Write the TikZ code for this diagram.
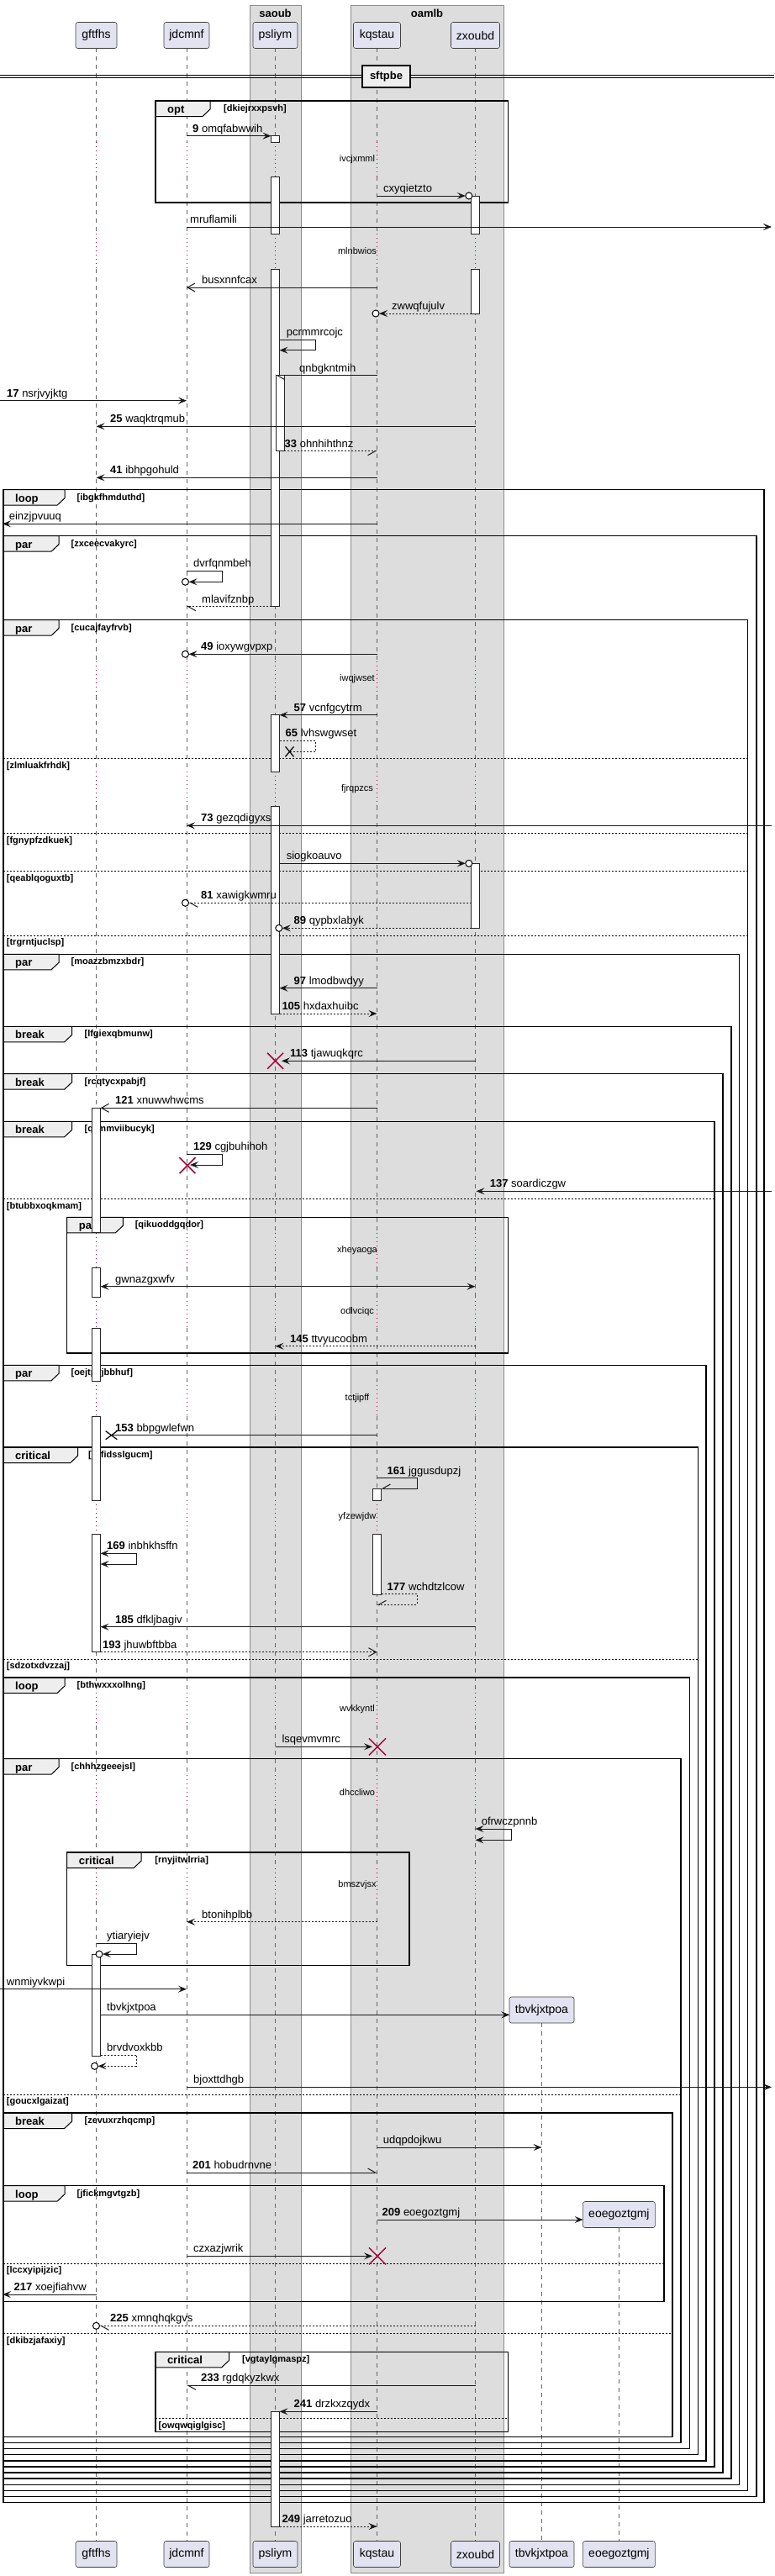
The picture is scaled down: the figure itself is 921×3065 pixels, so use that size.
\documentclass[tikz,border=0pt]{standalone}
\usepackage{fontspec}
\setmainfont{Liberation Sans}
\usetikzlibrary{arrows.meta}
\definecolor{partfill}{HTML}{E2E2F0}
\definecolor{boxfill}{HTML}{DDDDDD}
\definecolor{tabfill}{HTML}{EEEEEE}
\definecolor{dred}{HTML}{A80036}
\def\xA{114.5}\def\xB{222}\def\xC{327.5}\def\xD{448.5}\def\xE{565.5}\def\xF{644.5}\def\xG{736.4}
\newcommand\Msg[7]{%
  \coordinate (#1s) at (#3,#5);
  \coordinate (#1e) at (#4,#5);
  \draw[#2] (#1s) -- (#1e);
  \node[lab] (#1l) at (#6,#5-4.5) {#7};}
\newcommand\SelfM[9]{%
  \coordinate (#1s) at (#3,#5);
  \coordinate (#1a) at (#4,#5);
  \coordinate (#1b) at (#4,#6);
  \coordinate (#1e) at (#7,#6);
  \draw[#2] (#1s) -- (#1a) -- (#1b) -- (#1e);
  \node[lab] (#1l) at (#8,#5-4.5) {#9};}
\newcommand\Frag[9]{%
  \draw[tab] (#2,#3) -- (#2+#6,#3) -- (#2+#6,#3+10) -- (#2+#6-9,#3+18.5) -- (#2,#3+18.5) -- cycle;
  \draw[frame] (#2,#3) rectangle (#4,#5);
  \node[kw] (#1k) at (#2+14,#3+14.5) {#7};
  \node[cond] (#1c) at (#9,#3+12.5) {#8};}
\newcommand\SepL[5]{%
  \draw[sepl] (#2,#4) -- (#3,#4);
  \node[cond] (#1) at (#2+3.7,#4+11.5) {#5};}
\newcommand\XR[3]{\draw[xr] (#1-#3,#2-#3) -- (#1+#3,#2+#3) (#1-#3,#2+#3) -- (#1+#3,#2-#3);}
\newcommand\XB[4]{\draw[xb] (#1-#3,#2-#4) -- (#1+#3,#2+#4) (#1-#3,#2+#4) -- (#1+#3,#2-#4);}
\newcommand\Circ[2]{\draw[circ] (#1,#2) circle[radius=4pt];}
\newcommand\Act[3]{\draw[act] (#1,#2) rectangle (#1+10,#3);}
\begin{document}
\begin{tikzpicture}[x=1pt,y=-1pt,
  part/.style={draw=black!75, fill=partfill, rounded corners=2.5pt, line width=0.6pt, minimum height=31pt, inner sep=0pt, font=\fontsize{14}{16}\selectfont},
  life/.style={draw=black!60, line width=0.6pt, dash pattern=on 5pt off 5pt},
  dly/.style={draw=dred, line width=0.8pt, dash pattern=on 1pt off 4pt},
  act/.style={draw=black!85, fill=white, line width=0.8pt},
  m/.style={draw=black!90, line width=1pt},
  r/.style={m, dash pattern=on 2pt off 2pt},
  fa/.style={-{Stealth[length=10pt,width=8pt,inset=4pt]}},
  fab/.style={{Stealth[length=10pt,width=8pt,inset=4pt]}-{Stealth[length=10pt,width=8pt,inset=4pt]}},
  oa/.style={-{Straight Barb[length=9pt,width=10pt]}},
  hl/.style={-{Straight Barb[length=9pt,width=10pt,harpoon]}},
  hr/.style={-{Straight Barb[length=9pt,width=10pt,harpoon,swap]}},
  lab/.style={anchor=base west, inner sep=0pt, font=\fontsize{13}{15}\selectfont},
  frame/.style={draw=black, line width=1.5pt},
  sepl/.style={draw=black, line width=1pt, dash pattern=on 2pt off 2pt},
  tab/.style={draw=black, line width=1pt, fill=tabfill},
  kw/.style={anchor=base west, inner sep=0pt, font=\bfseries\fontsize{13}{15}\selectfont},
  cond/.style={anchor=base west, inner sep=0pt, font=\bfseries\fontsize{11}{13}\selectfont},
  dlab/.style={inner sep=0pt, font=\fontsize{11}{13}\selectfont},
  xr/.style={draw=dred, line width=1.5pt},
  xb/.style={draw=black, line width=1.2pt},
  circ/.style={draw=black, line width=1pt, fill=white},
  grp/.style={draw=black!45, fill=boxfill, line width=0.8pt},
  gtitle/.style={font=\bfseries\fontsize{13}{15}\selectfont, inner sep=0pt}
]
\useasboundingbox (0,0) rectangle (921,3065);
\fill[white] (0,0) rectangle (921,3065);
% groups
\draw[grp] (297,6) rectangle (358,3061);
\draw[grp] (417,6) rectangle (599,3061);
\node[gtitle] (g1) at (327.5,16) {saoub};
\node[gtitle] (g2) at (508,16) {oamlb};
% lifelines
\foreach \x in {114.5,222,327.5,448.5,565.5}{
  \foreach \a/\b in {57/169.3,210/278.3,320/786.7,828.3/918.3,959.3/1466.7,1508.3/1543,1580/1643,1685/1785,1825/2014.3,2053/2111.7,2153.3/2222.7,2262/3023}
    \draw[life] (\x,\a) -- (\x,\b);
  \foreach \a/\b in {169.3/210,278.3/320,786.7/828.3,918.3/959.3,1466.7/1508.3,1543/1580,1643/1685,1785/1825,2014.3/2053,2111.7/2153.3,2222.7/2262}
    \draw[dly] (\x,\a) -- (\x,\b);
}
\draw[life] (\xF,2407.3) -- (\xF,3023);
\draw[life] (\xG,2650.7) -- (\xG,3023);
% delay labels
\node[dlab] (d1) at (425,190) {ivcjxmml};
\node[dlab] (d2) at (425,299) {mlnbwios};
\node[dlab] (d3) at (425,807.5) {iwqjwset};
\node[dlab] (d4) at (425,939) {fjrqpzcs};
\node[dlab] (d5) at (425,1487.5) {xheyaoga};
\node[dlab] (d6) at (425,1561) {odlvciqc};
\node[dlab] (d7) at (425,1664) {tctjipff};
\node[dlab] (d8) at (425,1805) {yfzewjdw};
\node[dlab] (d9) at (425,2034) {wvkkyntl};
\node[dlab] (d10) at (425,2132.5) {dhccliwo};
\node[dlab] (d11) at (425,2242.5) {bmszvjsx};
% participants
\node[part, minimum width=49pt] (pA) at (\xA,42) {gftfhs};
\node[part, minimum width=54pt] (pB) at (\xB,42) {jdcmnf};
\node[part, minimum width=53pt] (pC) at (\xC,42) {psliym};
\node[part, minimum width=56pt] (pD) at (\xD,42) {kqstau};
\node[part, minimum width=58pt] (pE) at (\xE,42) {zxoubd};
\node[part, minimum width=49pt] (qA) at (\xA,3039) {gftfhs};
\node[part, minimum width=54pt] (qB) at (\xB,3039) {jdcmnf};
\node[part, minimum width=53pt] (qC) at (\xC,3039) {psliym};
\node[part, minimum width=56pt] (qD) at (\xD,3039) {kqstau};
\node[part, minimum width=58pt] (qE) at (\xE,3039) {zxoubd};
\node[part, minimum width=77pt] (pF) at (\xF,2391.5) {tbvkjxtpoa};
\node[part, minimum width=77pt] (qF) at (\xF,3039) {tbvkjxtpoa};
\node[part, minimum width=86pt] (pG) at (\xG,2635) {eoegoztgmj};
\node[part, minimum width=86pt] (qG) at (\xG,3039) {eoegoztgmj};
% divider
\draw[line width=1pt] (0,89.3) -- (921,89.3) (0,92.7) -- (921,92.7);
\node[draw=black, line width=1.5pt, fill=tabfill, minimum width=57pt, minimum height=26pt, inner sep=0pt, font=\bfseries\fontsize{13}{15}\selectfont] (div) at (459.5,91) {sftpbe};
% fragments
\Frag{f0}{185}{120}{604.5}{241}{65}{opt}{[dkiejrxxpsvh]}{266}
\Frag{f1}{4}{582.7}{909}{2977.7}{73}{loop}{[ibgkfhmduthd]}{91.5}
\Frag{f2}{4}{637.7}{900}{2970.6}{66}{par}{[zxceecvakyrc]}{84.4}
\Frag{f3}{4}{737.7}{889.6}{2963.5}{66}{par}{[cucajfayfrvb]}{84.4}
\Frag{f4}{4}{1135.3}{879.6}{2956.3}{66}{par}{[moazzbmzxbdr]}{84.4}
\Frag{f5}{4}{1221.3}{870}{2949.2}{81.6}{break}{[lfgiexqbmunw]}{100.4}
\Frag{f6}{4}{1277.7}{860}{2942.1}{81.6}{break}{[rcqtycxpabjf]}{100.4}
\Frag{f7}{4}{1334.3}{850}{2935}{81.6}{break}{[qzmmviibucyk]}{100.4}
\Frag{f7a}{79.7}{1448.3}{604.5}{1610}{66.7}{par}{[qikuoddgqdor]}{160.6}
\Frag{f8}{4}{1624.3}{840}{2927.8}{66}{par}{[oejtpvjbbhuf]}{84.4}
\Frag{f9}{4}{1722}{830.6}{2920.7}{88.7}{critical}{[rdfidsslgucm]}{105}
\Frag{f10}{4}{1996}{820.5}{2913.6}{73}{loop}{[bthwxxxolhng]}{91.5}
\Frag{f11}{4}{2092.7}{810}{2906.4}{66}{par}{[chhhzgeeejsl]}{84.4}
\Frag{f11a}{79.7}{2204}{487}{2338.3}{88.5}{critical}{[rnyjitwlrria]}{184.2}
\Frag{f12}{4}{2514}{800}{2899.3}{81.6}{break}{[zevuxrzhqcmp]}{100.4}
\Frag{f13}{4}{2600.7}{790}{2738.3}{73}{loop}{[jfickmgvtgzb]}{91.5}
\Frag{f12a}{184.8}{2798.3}{604.5}{2893.3}{87.9}{critical}{[vgtaylgmaspz]}{288}
\SepL{s1}{4}{889.6}{902.7}{[zlmluakfrhdk]}
\SepL{s2}{4}{889.6}{991.7}{[fgnypfzdkuek]}
\SepL{s3}{4}{889.6}{1036.7}{[qeablqoguxtb]}
\SepL{s4}{4}{889.6}{1113.3}{[trgrntjuclsp]}
\SepL{s5}{4}{850}{1426.7}{[btubbxoqkmam]}
\SepL{s6}{4}{830.6}{1974.3}{[sdzotxdvzzaj]}
\SepL{s7}{4}{810}{2492.3}{[goucxlgaizat]}
\SepL{s8}{4}{790}{2693.3}{[lccxyipijzic]}
\SepL{s9}{4}{800}{2776.7}{[dkibzjafaxiy]}
\SepL{s10}{184.8}{604.5}{2877.7}{[owqwqiglgisc]}
% activations
\Act{322.5}{161.7}{169.3}
\Act{322.5}{210}{278.3}
\Act{322.5}{320}{721.7}
\Act{328}{446.7}{536.7}
\Act{322.5}{850.7}{918.3}
\Act{322.5}{959.3}{1206}
\Act{322.5}{2869.3}{3006}
\Act{560.5}{233}{278.3}
\Act{560.5}{320}{373}
\Act{560.5}{1027.3}{1104.3}
\Act{443.5}{1771}{1785}
\Act{443.5}{1825}{1897.3}
\Act{109.5}{1318.3}{1466.7}
\Act{109.5}{1508.3}{1543}
\Act{109.5}{1580}{1643}
\Act{109.5}{1685}{1785}
\Act{109.5}{1825}{1965}
\Act{109.5}{2325}{2446}
% messages
\Msg{m1}{m,fa}{\xB}{322.5}{161.7}{229}{\textbf{9} omqfabwwih}
\Msg{m2}{m,fa}{\xD}{553.8}{233}{456}{cxyqietzto}\Circ{557.8}{233}
\Msg{m3}{m,fa}{\xB}{918}{270}{226}{mruflamili}
\Msg{m4}{m,oa}{\xD}{\xB}{342}{240}{busxnnfcax}
\Msg{m5}{r,fa}{560.5}{451}{373}{466}{zwwqfujulv}\Circ{447}{373}
\SelfM{m6}{m,fa}{332.5}{375}{404}{416.7}{332.5}{340.6}{pcrmmrcojc}
\Msg{m7}{m,hl}{\xD}{328}{446.7}{356}{qnbgkntmih}
\Msg{m8}{m,fa}{0}{\xB}{476.7}{8}{\textbf{17} nsrjvyjktg}
\Msg{m9}{m,fa}{\xE}{\xA}{507.3}{131}{\textbf{25} waqktrqmub}
\Msg{m10}{r,hr}{338}{\xD}{536.7}{338.5}{\textbf{33} ohnhihthnz}
\Msg{m11}{m,fa}{\xD}{\xA}{568.3}{131}{\textbf{41} ibhpgohuld}
\Msg{m12}{m,fa}{\xD}{3}{623.3}{10.6}{einzjpvuuq}
\SelfM{m13}{m,fa}{\xB}{264.5}{679.3}{692.3}{224.5}{230}{dvrfqnmbeh}\Circ{220.5}{692.3}
\Msg{m14}{r,hl}{322.5}{\xB}{721.7}{240}{mlavifznbp}
\Msg{m15}{m,fa}{\xD}{224.5}{778.3}{239}{\textbf{49} ioxywgvpxp}\Circ{220.5}{778.3}
\Msg{m16}{m,fa}{\xD}{332.5}{850.7}{349.5}{\textbf{57} vcnfgcytrm}
\SelfM{m17}{r}{332.5}{375}{881.3}{894.3}{344.5}{339.5}{\textbf{65} lvhswgwset}\XB{344.5}{894.3}{5}{6}
\Msg{m18}{m,fa}{918}{\xB}{982.3}{239}{\textbf{73} gezqdigyxs}
\Msg{m19}{m,fa}{332.5}{553.8}{1027.3}{340.6}{siogkoauvo}\Circ{557.8}{1027.3}
\Msg{m20}{r,hl}{560.5}{224.5}{1074.3}{239}{\textbf{81} xawigkwmru}\Circ{220.5}{1074.3}
\Msg{m21}{r,fa}{560.5}{335.8}{1104.3}{349.5}{\textbf{89} qypbxlabyk}\Circ{331.8}{1104.3}
\Msg{m22}{m,fa}{\xD}{332.5}{1175.7}{349.5}{\textbf{97} lmodbwdyy}
\Msg{m23}{r,fa}{332.5}{\xD}{1206}{335.3}{\textbf{105} hxdaxhuibc}
\Msg{m24}{m,fa}{\xE}{335}{1262.3}{345}{\textbf{113} tjawuqkqrc}\XR{327.6}{1262.3}{9.5}
\Msg{m25}{m,oa}{\xD}{119.5}{1318.3}{137}{\textbf{121} xnuwwhwcms}
\SelfM{m26}{m,fa}{\xB}{264.5}{1373.3}{1386}{226}{230}{\textbf{129} cgjbuhihoh}\XR{223}{1386.7}{9.5}
\Msg{m27}{m,fa}{918}{566.5}{1417.3}{582.6}{\textbf{137} soardiczgw}
\Msg{m28}{m,fab}{119.5}{\xE}{1530.7}{137}{gwnazgxwfv}
\Msg{m29}{r,fa}{\xE}{\xC}{1601.7}{345}{\textbf{145} ttvyucoobm}
\Msg{m30}{m}{\xD}{132.5}{1707.7}{137}{\textbf{153} bbpgwlefwn}\XB{132.5}{1707.7}{6.8}{5}
\SelfM{m31}{m,hr}{\xD}{496}{1758.7}{1771}{453.5}{460.5}{\textbf{161} jggusdupzj}
\SelfM{m32}{m,fab}{119.5}{162.3}{1848.3}{1861}{119.5}{127}{\textbf{169} inbhkhsffn}
\SelfM{m33}{r,hr}{453.5}{496}{1896.7}{1909.3}{\xD}{460.5}{\textbf{177} wchdtzlcow}
\Msg{m34}{m,fa}{\xE}{119.5}{1935.7}{137}{\textbf{185} dfkljbagiv}
\Msg{m35}{r,oa}{119.5}{\xD}{1965.7}{122}{\textbf{193} jhuwbftbba}
\Msg{m36}{m,fa}{\xC}{443}{2078.3}{335.3}{lsqevmvmrc}\XR{449}{2078.3}{10}
\SelfM{m37}{m,fab}{\xE}{608}{2176}{2189.3}{\xE}{572.6}{ofrwczpnnb}
\Msg{m38}{r,fa}{\xD}{\xB}{2286.7}{240}{btonihplbb}
\SelfM{m39}{m,fa}{\xA}{162.3}{2312.3}{2325}{122}{127}{ytiaryiejv}\Circ{118}{2325}
\Msg{m40}{m,fa}{0}{\xB}{2366.7}{7.7}{wnmiyvkwpi}
\Msg{m41}{m,fa}{119.5}{606.3}{2397.3}{127}{tbvkjxtpoa}
\SelfM{m42}{r,fa}{119.5}{162.3}{2445}{2458.3}{116.5}{127}{brvdvoxkbb}\Circ{112.5}{2458.3}
\Msg{m43}{m,fa}{\xB}{918}{2483.3}{230}{bjoxttdhgb}
\Msg{m44}{m,fa}{\xD}{\xF}{2555}{455.7}{udqpdojkwu}
\Msg{m45}{m,hl}{\xB}{\xD}{2585}{229}{\textbf{201} hobudrnvne}
\Msg{m46}{m,fa}{\xD}{693.6}{2641}{454.5}{\textbf{209} eoegoztgmj}
\Msg{m47}{m,fa}{\xB}{443}{2684.3}{230}{czxazjwrik}\XR{449}{2684.3}{10}
\Msg{m48}{m,fa}{\xA}{3}{2730}{16.5}{\textbf{217} xoejfiahvw}
\Msg{m49}{r,hl}{\xE}{118.5}{2767.3}{131}{\textbf{225} xmnqhqkgvs}\Circ{114.5}{2767.3}
\Msg{m50}{m,hl}{\xE}{\xB}{2838.3}{239}{\textbf{233} rgdqkyzkwx}
\Msg{m51}{m,fa}{\xD}{332.5}{2869.3}{349.5}{\textbf{241} drzkxzqydx}
\Msg{m52}{r,fa}{332.5}{\xD}{3006}{335.3}{\textbf{249} jarretozuo}
\end{tikzpicture}
\end{document}
